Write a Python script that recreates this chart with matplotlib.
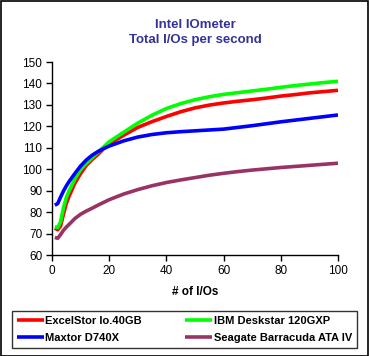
import matplotlib
matplotlib.use("Agg")
import matplotlib.pyplot as plt
from matplotlib.patches import Rectangle

plt.rcParams['font.family'] = ['Liberation Sans', 'DejaVu Sans']

# Data
outstanding_ios = [1, 2, 3, 4, 5, 6, 8, 10, 12, 14, 16, 18, 20, 25, 30, 35, 40, 45, 50,
                   55, 60, 65, 70, 75, 80, 85, 90, 95, 100]
excelstor = [72.5, 71.8, 73.5, 79.0, 84.0, 87.5, 93.5, 98.0, 101.8, 104.5, 106.8, 109.5, 111.8,
             115.8, 119.5, 122.2, 124.6, 126.8, 128.6, 129.9, 130.9, 131.7, 132.4, 133.2, 134.1,
             134.8, 135.6, 136.2, 136.8]
ibm = [73.2, 72.8, 75.5, 82.0, 86.8, 90.0, 95.5, 99.8, 102.8, 105.3, 107.8, 110.3, 112.8,
       117.2, 121.5, 125.2, 128.3, 130.6, 132.4, 133.8, 134.9, 135.7, 136.5, 137.3, 138.2,
       139.0, 139.7, 140.4, 141.0]
maxtor = [83.2, 84.0, 87.0, 89.8, 92.2, 94.3, 98.0, 101.5, 104.3, 106.5, 108.2, 109.6, 110.8,
          113.2, 115.0, 116.2, 117.0, 117.5, 117.9, 118.3, 118.7, 119.5, 120.3, 121.2, 122.1,
          122.9, 123.7, 124.5, 125.3]
seagate = [68.2, 67.8, 69.5, 71.5, 73.0, 74.3, 77.0, 79.0, 80.5, 81.8, 83.2, 84.5, 85.8,
           88.4, 90.5, 92.3, 93.8, 95.0, 96.1, 97.2, 98.1, 98.9, 99.6, 100.2, 100.8,
           101.3, 101.8, 102.3, 102.8]

series_names = ["ExcelStor Io.40GB", "IBM Deskstar 120GXP", "Maxtor D740X", "Seagate Barracuda ATA IV"]
series_colors = ["#FF0000", "#00FF00", "#0000FF", "#993366"]
x_ticks = [0, 20, 40, 60, 80, 100]
y_ticks = [60, 70, 80, 90, 100, 110, 120, 130, 140, 150]

W, H = 369, 356
fig = plt.figure(figsize=(W / 100, H / 100), dpi=100)
fig.patch.set_facecolor('white')

# figure border
fig.patches.append(Rectangle((0.5 / W, 0.5 / H), 1 - 1.5 / W, 1 - 1.5 / H, transform=fig.transFigure,
                             fill=False, edgecolor='black', linewidth=1.2))

left, right, top, bottom = 52, 338, 62, 255
ax = fig.add_axes([left / W, 1 - bottom / H, (right - left) / W, (bottom - top) / H])

lines = []
for vals, name, col in zip([excelstor, ibm, maxtor, seagate], series_names, series_colors):
    ln, = ax.plot(outstanding_ios, vals, color=col, linewidth=2.6, label=name,
                  solid_capstyle='butt', solid_joinstyle='round')
    lines.append(ln)

ax.set_xlim(0, 100)
ax.set_ylim(60, 150)
ax.set_xticks(x_ticks)
ax.set_yticks(y_ticks)
ax.spines['top'].set_visible(False)
ax.spines['right'].set_visible(False)
for s in ['left', 'bottom']:
    ax.spines[s].set_linewidth(1.0)
ax.tick_params(direction='out', length=4, width=1, labelsize=8.5, pad=3)
ax.set_xlabel("# of I/Os", fontsize=8.5, fontweight='bold', labelpad=7)

fig.text(195 / W, 1 - 28.5 / H, "Intel IOmeter", ha='center', va='baseline', fontsize=9.5,
         fontweight='bold', color='#333399')
fig.text(195 / W, 1 - 43.5 / H, "Total I/Os per second", ha='center', va='baseline', fontsize=9.5,
         fontweight='bold', color='#333399')

order = [0, 2, 1, 3]
leg = fig.legend([lines[i] for i in order], [series_names[i] for i in order], ncol=2,
                 loc='lower left', bbox_to_anchor=(10 / W, 1 - 348 / H, 349 / W, 40 / H),
                 mode='expand', frameon=True, fancybox=False, edgecolor='black',
                 prop={'size': 8, 'weight': 'bold'}, handlelength=2.4, handletextpad=0.15,
                 borderpad=0.45, labelspacing=0.62, columnspacing=1.0, borderaxespad=0)
leg.get_frame().set_linewidth(1.0)
# keep the visible frame where the reference draws it
leg.set_bbox_to_anchor((12 / W, 1 - 348 / H, 345 / W, 40 / H), transform=fig.transFigure)

fig.savefig("out.png", dpi=100, facecolor='white')
